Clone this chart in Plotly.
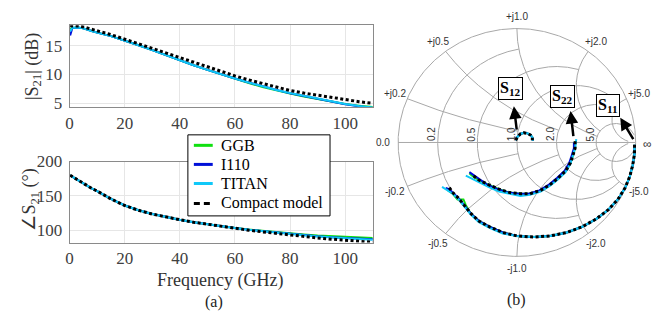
import numpy as np
import plotly.graph_objects as go

W, H = 663, 322

# ---------------- data: S21 vs frequency ----------------
freq = [0.2, 1, 3, 5, 8, 10, 15, 20, 25, 30, 35, 40, 45, 50, 55, 60, 65, 70, 75, 80, 85, 90, 95, 100, 105, 110]

s21_db_ggb = [17.9, 18.1, 18.2, 18.05, 17.6, 17.3, 16.7, 15.95, 15.1, 14.25, 13.35, 12.45, 11.6, 10.8, 10.0, 9.25,
              8.5, 7.8, 7.2, 6.65, 6.15, 5.7, 5.3, 4.85, 4.55, 4.3]
s21_db_i110 = [16.8, 18.1, 18.2, 18.05, 17.6, 17.3, 16.7, 15.95, 15.1, 14.25, 13.35, 12.45, 11.6, 10.8, 10.0, 9.3,
               8.6, 7.9, 7.3, 6.7, 6.2, 5.75, 5.25, 4.8, 4.45, 4.15]
s21_db_titan = [17.5, 18.15, 18.2, 18.05, 17.6, 17.3, 16.7, 15.95, 15.1, 14.25, 13.35, 12.45, 11.6, 10.8, 10.0, 9.3,
                8.6, 7.9, 7.3, 6.75, 6.25, 5.75, 5.3, 4.85, 4.5, 4.25]
s21_db_model = [18.5, 18.5, 18.45, 18.3, 17.9, 17.6, 16.95, 16.15, 15.35, 14.55, 13.7, 12.9, 12.1, 11.3, 10.5, 9.75,
                9.05, 8.4, 7.8, 7.2, 6.75, 6.35, 5.95, 5.6, 5.25, 4.95]

s21_ph_ggb = [180, 178, 173, 168, 161, 157, 145.5, 136, 129, 123.5, 119, 115.3, 111.7, 108.6, 105.7, 103.3,
              101, 99, 97, 95.2, 93.7, 92.3, 91.1, 90.1, 89.3, 88.6]
s21_ph_i110 = [180, 178, 173, 168, 161, 157, 145.5, 136, 129, 123.5, 119, 115.3, 111.7, 108.6, 105.6, 103.1,
               100.7, 98.6, 96.4, 94.5, 92.8, 91.2, 89.8, 88.6, 87.6, 86.8]
s21_ph_titan = [180, 178, 173, 168, 161, 157, 145.5, 136, 129, 123.5, 119, 115.3, 111.7, 108.6, 105.6, 103.1,
                100.7, 98.5, 96.3, 94.4, 92.6, 91.0, 89.5, 88.2, 87.2, 86.2]
s21_ph_model = [180, 178, 173, 168, 161, 157, 145.5, 136, 129, 123.5, 119, 115.3, 111.7, 108.6, 105.4, 102.5,
                100, 97.6, 95.2, 93, 90.8, 88.8, 87, 85.3, 83.8, 82.5]

# ---------------- data: Smith chart (reflection coefficient) ----------------
s11_re_model = [0.99, 0.99, 0.975, 0.95, 0.91, 0.85, 0.77, 0.67, 0.55, 0.42, 0.28, 0.14, 0.00, -0.12, -0.23, -0.32, -0.39, -0.44, -0.49, -0.54, -0.58]
s11_im_model = [-0.02, -0.10, -0.20, -0.30, -0.40, -0.50, -0.59, -0.67, -0.74, -0.79, -0.82, -0.83, -0.82, -0.79, -0.74, -0.69, -0.62, -0.55, -0.49, -0.44, -0.38]
s11_re_ggb = [0.99, 0.99, 0.975, 0.95, 0.91, 0.85, 0.77, 0.67, 0.55, 0.42, 0.28, 0.14, 0.00, -0.12, -0.23, -0.32, -0.39, -0.43, -0.45, -0.50, -0.54, -0.58]
s11_im_ggb = [-0.02, -0.10, -0.20, -0.30, -0.40, -0.50, -0.59, -0.67, -0.74, -0.79, -0.82, -0.83, -0.82, -0.79, -0.74, -0.69, -0.62, -0.55, -0.50, -0.50, -0.45, -0.42]
s11_re_i110 = [0.99, 0.99, 0.975, 0.95, 0.91, 0.85, 0.77, 0.67, 0.55, 0.42, 0.28, 0.14, 0.00, -0.12, -0.23, -0.32, -0.39, -0.44, -0.49, -0.53, -0.57, -0.60]
s11_im_i110 = [-0.02, -0.10, -0.20, -0.30, -0.40, -0.50, -0.59, -0.67, -0.74, -0.79, -0.82, -0.83, -0.82, -0.79, -0.74, -0.69, -0.62, -0.55, -0.49, -0.45, -0.41, -0.40]
s11_re_titan = [0.99, 0.99, 0.975, 0.95, 0.91, 0.85, 0.77, 0.67, 0.55, 0.42, 0.28, 0.14, 0.00, -0.12, -0.23, -0.32, -0.39, -0.44, -0.49, -0.54, -0.58, -0.63]
s11_im_titan = [-0.02, -0.10, -0.20, -0.30, -0.40, -0.50, -0.59, -0.67, -0.74, -0.79, -0.82, -0.83, -0.82, -0.80, -0.75, -0.70, -0.63, -0.56, -0.50, -0.45, -0.42, -0.39]

s22_re_model = [0.49, 0.49, 0.47, 0.45, 0.41, 0.35, 0.28, 0.20, 0.11, 0.03, -0.06, -0.15, -0.24, -0.32, -0.38]
s22_im_model = [0.01, -0.05, -0.12, -0.18, -0.25, -0.31, -0.37, -0.42, -0.45, -0.45, -0.44, -0.41, -0.37, -0.33, -0.28]
s22_re_ggb = [0.49, 0.49, 0.47, 0.45, 0.41, 0.35, 0.28, 0.20, 0.11, 0.03, -0.06, -0.15, -0.24, -0.32, -0.38, -0.40]
s22_im_ggb = [0.01, -0.05, -0.12, -0.18, -0.25, -0.31, -0.37, -0.42, -0.45, -0.45, -0.44, -0.41, -0.37, -0.33, -0.29, -0.27]
s22_re_i110 = [0.48, 0.48, 0.46, 0.44, 0.40, 0.34, 0.27, 0.19, 0.10, 0.02, -0.07, -0.16, -0.25, -0.32, -0.38, -0.40]
s22_im_i110 = [0.00, -0.05, -0.12, -0.18, -0.25, -0.31, -0.37, -0.42, -0.45, -0.45, -0.44, -0.41, -0.37, -0.32, -0.27, -0.26]
s22_re_titan = [0.50, 0.49, 0.47, 0.45, 0.41, 0.35, 0.28, 0.20, 0.11, 0.03, -0.06, -0.15, -0.24, -0.32, -0.37, -0.43]
s22_im_titan = [0.03, -0.05, -0.12, -0.19, -0.26, -0.32, -0.38, -0.43, -0.46, -0.47, -0.45, -0.43, -0.39, -0.35, -0.32, -0.29]

s12_re_model = [-0.01, 0.005, 0.03, 0.06, 0.09, 0.115, 0.13, 0.13]
s12_im_model = [0.02, 0.05, 0.075, 0.085, 0.08, 0.065, 0.045, 0.02]
s12_re_meas = [-0.01, 0.005, 0.03, 0.06, 0.09, 0.115, 0.13, 0.135]
s12_im_meas = [0.02, 0.05, 0.075, 0.085, 0.08, 0.065, 0.045, 0.015]

smith_grid_vals = [0.2, 0.5, 1.0, 2.0, 5.0]
smith_grid_ends = [1.0, 2.0, 5.0, 5.0, 30.0]

series_names = ["GGB", "I110", "TITAN", "Compact model"]
series_colors = ["#10e010", "#0010d8", "#10c8f8", "#000000"]

# ---------------- geometry helpers ----------------
def pxx(p):
    return p / W

def pxy(p):
    return 1 - p / H

R = 119.5          # smith radius in px
CX, CY = 516, 140  # smith centre in px
X3_L, X3_R = 376, 656

fig = go.Figure()

ser_db = [s21_db_ggb, s21_db_i110, s21_db_titan, s21_db_model]
ser_ph = [s21_ph_ggb, s21_ph_i110, s21_ph_titan, s21_ph_model]

def line_style(i):
    if i == 3:
        return dict(color=series_colors[i], width=3, dash="3px,2.5px")
    return dict(color=series_colors[i], width=2)

for i, name in enumerate(series_names):
    fig.add_trace(go.Scatter(x=freq, y=ser_db[i], mode="lines", name=name, line=line_style(i),
                             legendgroup=name, showlegend=False, xaxis="x", yaxis="y"))
for i, name in enumerate(series_names):
    fig.add_trace(go.Scatter(x=freq, y=ser_ph[i], mode="lines", name=name, line=line_style(i),
                             legendgroup=name, showlegend=False, xaxis="x2", yaxis="y2"))

# ---------------- smith grid ----------------
def gam(z):
    return (z - 1) / (z + 1)

gx, gy = [], []
th = np.linspace(0, 2 * np.pi, 721)
gx += list(np.cos(th)) + [None]
gy += list(np.sin(th)) + [None]
gx += [-1, 1, None]
gy += [0, 0, None]
for v, e in zip(smith_grid_vals, smith_grid_ends):
    xs = np.linspace(-e, e, 1500)
    g = gam(v + 1j * xs)
    gx += list(g.real) + [None]
    gy += list(g.imag) + [None]
    rs = np.linspace(0, e, 1500)
    for sgn in (1, -1):
        g = gam(rs + 1j * sgn * v)
        gx += list(g.real) + [None]
        gy += list(g.imag) + [None]
fig.add_trace(go.Scatter(x=gx, y=gy, mode="lines", line=dict(color="#a8a8a8", width=1),
                         hoverinfo="skip", showlegend=False, xaxis="x3", yaxis="y3"))

smith_sets = [
    (s11_re_ggb, s11_im_ggb, s11_re_i110, s11_im_i110, s11_re_titan, s11_im_titan, s11_re_model, s11_im_model),
    (s22_re_ggb, s22_im_ggb, s22_re_i110, s22_im_i110, s22_re_titan, s22_im_titan, s22_re_model, s22_im_model),
    (s12_re_meas, s12_im_meas, s12_re_meas, s12_im_meas, s12_re_meas, s12_im_meas, s12_re_model, s12_im_model),
]
for st in smith_sets:
    for i, name in enumerate(series_names):
        fig.add_trace(go.Scatter(x=st[2 * i], y=st[2 * i + 1], mode="lines", name=name,
                                 line=line_style(i), legendgroup=name, showlegend=False,
                                 xaxis="x3", yaxis="y3"))

# ---------------- annotations ----------------
ann = []
shapes = []
serif = "Liberation Serif"
sans = "Liberation Sans"
lab_font = dict(family=sans, size=10, color="#333333")
C = dict(xanchor="center", yanchor="middle")

# real-axis labels
for v in smith_grid_vals:
    gr = (v - 1) / (v + 1)
    ann.append(dict(x=gr - 6 / R, y=8.5 / R, xref="x3", yref="y3", text=f"{v:.1f}", showarrow=False,
                    textangle=-90, font=lab_font, **C))
ann.append(dict(x=-1.125, y=0, xref="x3", yref="y3", text="0.0", showarrow=False, font=lab_font, **C))
ann.append(dict(x=1.10, y=-0.01, xref="x3", yref="y3", text="∞", showarrow=False,
                font=dict(family=sans, size=12, color="#333333"), **C))
# imaginary labels
for v in smith_grid_vals:
    for sgn, pre in ((1, "+j"), (-1, "-j")):
        g = gam(1j * sgn * v)
        ang = np.angle(g)
        rr = 1.11
        ann.append(dict(x=rr * np.cos(ang), y=rr * np.sin(ang), xref="x3", yref="y3",
                        text=f"{pre}{v:.1f}", showarrow=False, font=lab_font, **C))

def d3(px, py):
    return (px - CX) / R, (CY - py) / R

# boxed labels
for txt, (bx, by) in (("12", (510, 83.5)), ("22", (562, 91.5)), ("11", (607.5, 101))):
    x, y = d3(bx, by)
    ann.append(dict(x=x, y=y, xref="x3", yref="y3", text=f"<b>S<sub>{txt}</sub></b>", showarrow=False,
                    font=dict(family=serif, size=16, color="black"), bordercolor="black",
                    borderwidth=1, borderpad=1, bgcolor="white", **C))
# arrows (tail near curve -> head at box)
for (hx, hy), (tx, ty) in (((513, 102), (516, 128)), ((570, 107), (573, 135)), ((620, 114), (634, 138))):
    x, y = d3(hx, hy)
    ax, ay = d3(tx, ty)
    ann.append(dict(x=x, y=y, ax=ax, ay=ay, xref="x3", yref="y3", axref="x3", ayref="y3", text="",
                    showarrow=True, arrowhead=2, arrowsize=1, arrowwidth=2.5, arrowcolor="black"))

title_font = dict(family=serif, size=18, color="#333333")
ann.append(dict(x=pxx(29), y=pxy(60), xref="paper", yref="paper", text="|S<sub>21</sub>| (dB)",
                textangle=-90, showarrow=False, font=title_font, **C))
ann.append(dict(x=pxx(27), y=pxy(200), xref="paper", yref="paper", text="∠S<sub>21</sub> (°)",
                textangle=-90, showarrow=False, font=title_font, **C))
ann.append(dict(x=pxx(217), y=pxy(285), xref="paper", yref="paper", text="Frequency (GHz)",
                showarrow=False, font=dict(family=serif, size=18, color="#333333"), **C))
ann.append(dict(x=pxx(211), y=pxy(307), xref="paper", yref="paper", text="(a)",
                showarrow=False, font=dict(family=serif, size=16, color="#222222"), **C))
ann.append(dict(x=pxx(516), y=pxy(305), xref="paper", yref="paper", text="(b)",
                showarrow=False, font=dict(family=serif, size=16, color="#222222"), **C))

# legend (box, samples, names)
LG_L, LG_T, LG_R, LG_B = 185, 132, 328, 217
legend_rows = [143, 163, 183, 204]
shapes.append(dict(type="rect", xref="paper", yref="paper", x0=pxx(LG_L), x1=pxx(LG_R), y0=pxy(LG_B),
                   y1=pxy(LG_T), fillcolor="white", line=dict(color="black", width=1), layer="above"))
for i, name in enumerate(series_names):
    ry = legend_rows[i]
    dash = "6px,4px" if i == 3 else "solid"
    shapes.append(dict(type="line", xref="paper", yref="paper", x0=pxx(191), x1=pxx(210), y0=pxy(ry), y1=pxy(ry),
                       line=dict(color=series_colors[i], width=3, dash=dash), layer="above"))
    ann.append(dict(x=pxx(216), y=pxy(ry), xref="paper", yref="paper", text=name, showarrow=False,
                    xanchor="left", yanchor="middle", font=dict(family=serif, size=16, color="black")))

tick_font = dict(family=serif, size=17, color="#404040")
ax_common = dict(showline=True, mirror=True, linecolor="#8a8a8a", linewidth=1, showgrid=True,
                 gridcolor="#e6e6e6", gridwidth=1, zeroline=False, ticks="", tickfont=tick_font)

fig.update_layout(
    width=W, height=H, margin=dict(l=0, r=0, t=0, b=0),
    paper_bgcolor="white", plot_bgcolor="white",
    xaxis=dict(domain=[pxx(66), pxx(371)], range=[0, 110], tickvals=[0, 20, 40, 60, 80, 100],
               anchor="y", ticklabelstandoff=0, **ax_common),
    yaxis=dict(domain=[pxy(103), pxy(17)], range=[4.28, 18.6], tickvals=[5, 10, 15], anchor="x",
               ticklabelstandoff=3, **ax_common),
    xaxis2=dict(domain=[pxx(66), pxx(371)], range=[0, 110], tickvals=[0, 20, 40, 60, 80, 100],
                anchor="y2", ticklabelstandoff=0, **ax_common),
    yaxis2=dict(domain=[pxy(245), pxy(160)], range=[82, 200], tickvals=[100, 150, 200], anchor="x2",
                ticklabelstandoff=3, **ax_common),
    xaxis3=dict(domain=[pxx(X3_L), pxx(X3_R)], range=[(X3_L - CX) / R, (X3_R - CX) / R], visible=False,
                anchor="y3", fixedrange=True),
    yaxis3=dict(domain=[0, 1], range=[(CY - H) / R, CY / R], visible=False, anchor="x3", fixedrange=True),
    annotations=ann,
    shapes=shapes,
    showlegend=False,
)

fig.write_html("out.html", config={"displayModeBar": False},
               post_script="document.body.style.margin='0';document.body.style.overflow='hidden';")
